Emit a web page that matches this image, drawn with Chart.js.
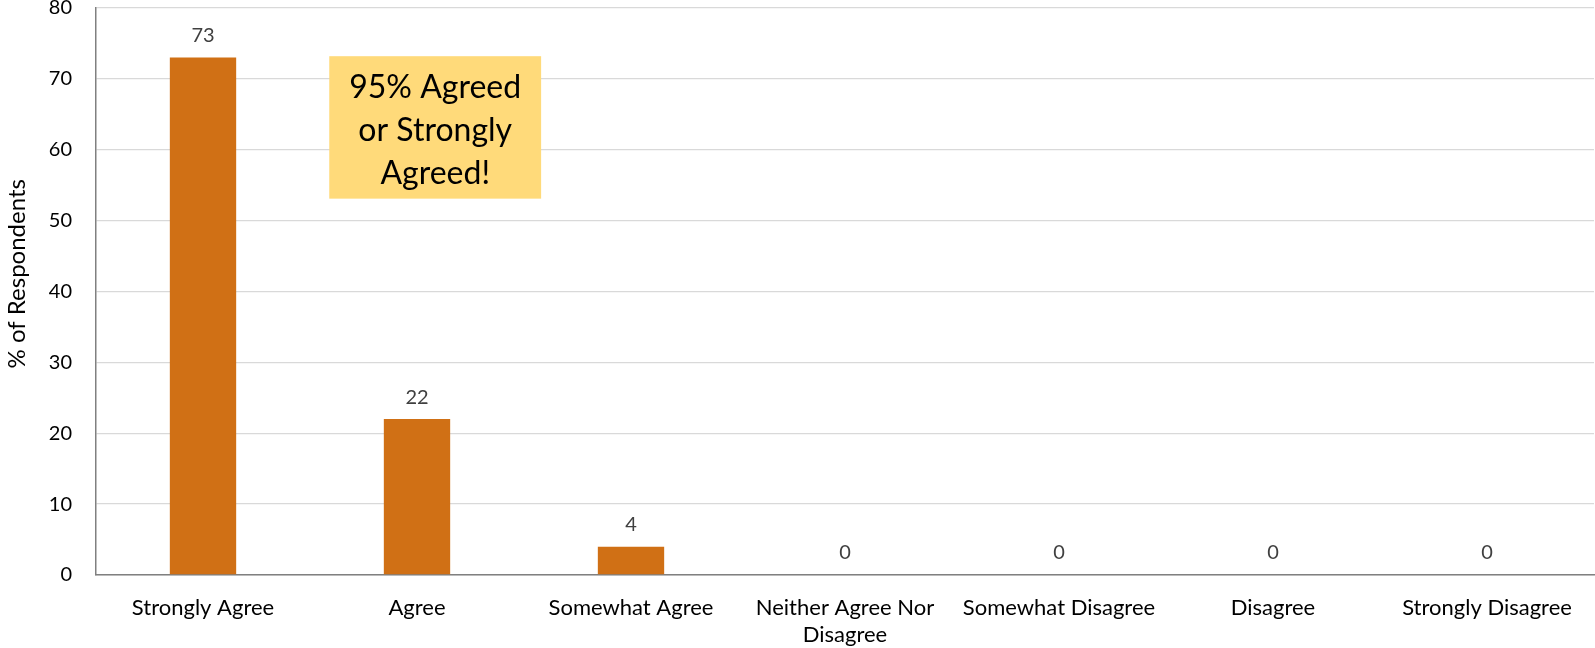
<!DOCTYPE html>
<html>
<head>
<meta charset="utf-8">
<script src="https://cdn.jsdelivr.net/npm/chart.js@4/dist/chart.umd.min.js"></script>
<style>
  html, body { margin: 0; padding: 0; background: #fff; }
  #wrap { width: 1595px; height: 648px; }
</style>
</head>
<body>
<div id="wrap"><canvas id="grafica"></canvas></div>
<script>
'use strict'
//Datos de la gráfica
const categorias = ['Strongly Agree', 'Agree', 'Somewhat Agree', ['Neither Agree Nor', 'Disagree'], 'Somewhat Disagree', 'Disagree', 'Strongly Disagree'];
const porcentajes = [73, 22, 4, 0, 0, 0, 0];
const ticks_y = [0, 10, 20, 30, 40, 50, 60, 70, 80];
const titulo_y = '% of Respondents';
const nota = ['95% Agreed', 'or Strongly', 'Agreed!'];

const fuente = 'Lato, "Open Sans", sans-serif';

//Etiquetas de valor encima de cada barra
const etiquetasValor = {
    id: 'etiquetasValor',
    afterDatasetsDraw(chart) {
        const ctx = chart.ctx;
        const meta = chart.getDatasetMeta(0);
        ctx.save();
        ctx.font = '20px ' + fuente;
        ctx.fillStyle = '#404040';
        ctx.textAlign = 'center';
        ctx.textBaseline = 'middle';
        meta.data.forEach((barra, i) => {
            ctx.fillText(String(porcentajes[i]), barra.x, barra.y - 22);
        });
        ctx.restore();
    }
};

//Título del eje Y (un poco arriba del centro, como en el original)
const tituloEjeY = {
    id: 'tituloEjeY',
    afterDraw(chart) {
        const ctx = chart.ctx;
        const y = chart.scales.y;
        ctx.save();
        ctx.translate(17, y.getPixelForValue(42.5));
        ctx.rotate(-Math.PI / 2);
        ctx.font = '24px ' + fuente;
        ctx.fillStyle = '#000';
        ctx.textAlign = 'center';
        ctx.textBaseline = 'middle';
        ctx.fillText(titulo_y, 0, 0);
        ctx.restore();
    }
};

//Cuadro amarillo con la nota
const cuadroNota = {
    id: 'cuadroNota',
    afterDatasetsDraw(chart) {
        const ctx = chart.ctx;
        const x = chart.scales.x;
        const y = chart.scales.y;
        const izq = x.getPixelForValue(0.59);
        const der = x.getPixelForValue(1.58);
        const arriba = y.getPixelForValue(73.2);
        const abajo = y.getPixelForValue(53.1);
        ctx.save();
        ctx.fillStyle = '#FFDA7A';
        ctx.fillRect(izq, arriba, der - izq, abajo - arriba);
        ctx.fillStyle = '#000';
        ctx.font = '32px ' + fuente;
        ctx.textAlign = 'center';
        ctx.textBaseline = 'middle';
        const cx = (izq + der) / 2;
        const cy = (arriba + abajo) / 2 + 3;
        nota.forEach((linea, i) => {
            ctx.fillText(linea, cx, cy + (i - 1) * 43);
        });
        ctx.restore();
    }
};

const ctx_grafica = document.getElementById('grafica').getContext('2d');

new Chart(ctx_grafica, {
    type: 'bar',
    data: {
        labels: categorias,
        datasets: [{
            data: porcentajes,
            backgroundColor: '#D07015',
            borderWidth: 0,
            categoryPercentage: 1,
            barPercentage: 0.31
        }]
    },
    options: {
        animation: false,
        responsive: true,
        maintainAspectRatio: false,
        layout: { padding: { top: 0, right: 1, left: 0, bottom: 0 } },
        plugins: {
            legend: { display: false },
            tooltip: { enabled: false },
            title: { display: false }
        },
        scales: {
            x: {
                grid: { display: false, drawTicks: false },
                border: { color: '#808080', width: 1.5 },
                ticks: {
                    color: '#000',
                    font: { family: fuente, size: 22 },
                    padding: 20,
                    maxRotation: 0,
                    autoSkip: false
                },
                afterFit(scale) { scale.height = 73; }
            },
            y: {
                min: 0,
                max: 80,
                afterBuildTicks(scale) {
                    scale.ticks = ticks_y.map(v => ({ value: v }));
                },
                grid: { color: '#D9D9D9', lineWidth: 1.3, drawTicks: false },
                border: { color: '#808080', width: 1.5 },
                ticks: {
                    color: '#000',
                    font: { family: fuente, size: 20 },
                    padding: 24
                },
                afterFit(scale) {
                    scale.width = 96;
                    //el padding de los ticks no debe empujar el área hacia abajo
                    scale.paddingTop = 8;
                    scale.paddingBottom = 12;
                }
            }
        }
    },
    plugins: [etiquetasValor, cuadroNota, tituloEjeY]
});
</script>
</body>
</html>
